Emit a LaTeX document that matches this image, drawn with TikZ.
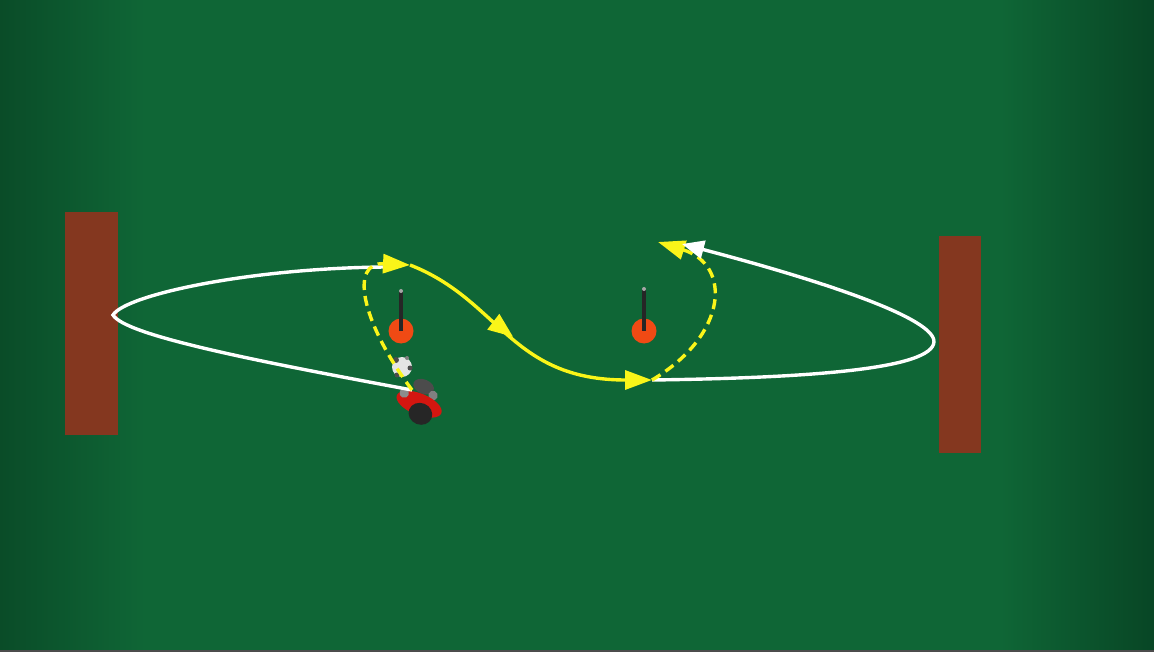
\documentclass[tikz,border=0pt]{standalone}
\usetikzlibrary{arrows.meta,decorations.markings}
\definecolor{fieldgreen}{RGB}{15,102,54}
\definecolor{fielddark}{RGB}{10,76,40}
\definecolor{fielddarker}{RGB}{8,70,37}
\definecolor{wallbrown}{RGB}{132,55,31}
\definecolor{coneorange}{RGB}{240,74,20}
\definecolor{passyellow}{RGB}{250,245,25}
\definecolor{shirtred}{RGB}{212,22,16}

\begin{document}
\begin{tikzpicture}[x=1pt, y=-1pt,
  wall/.style={fill=wallbrown},
  cone/.style={circle, fill=coneorange, minimum size=25pt, inner sep=0pt},
  pole/.style={line width=3.5pt, black!85},
  ball/.style={circle, fill=white!90!black, minimum size=20pt, inner sep=0pt},
  run/.style={white, line width=3.4pt},
  dribble/.style={passyellow, line width=3.4pt},
  pass/.style={passyellow, line width=3.4pt, dash pattern=on 10pt off 6pt},
  ytip/.style={-{Triangle[length=27pt,width=19pt]}},
  midtip/.style={postaction={decorate}, decoration={markings,
    mark=at position #1 with {\arrow{Triangle[length=25pt,width=19pt]}}}}
]
\useasboundingbox (0,0) rectangle (1154,652);

% pitch
\fill[fieldgreen] (0,0) rectangle (1154,652);
\shade[left color=fielddark, right color=fieldgreen] (0,0) rectangle (145,652);
\shade[left color=fieldgreen, right color=fielddarker] (1000,0) rectangle (1154,652);
\fill[black!70] (0,650) rectangle (1154,652);

% rebound walls
\fill[wall] (65,212) rectangle (118,435);
\fill[wall] (939,236) rectangle (981,453);

% cones with poles
\node[cone] (coneL) at (401,331) {};
\node[cone] (coneR) at (644,331) {};
\draw[pole] (coneL.center) -- ++(0,-40) coordinate (topL);
\draw[pole] (coneR.center) -- ++(0,-42) coordinate (topR);
\fill[black!35] (topL) circle (2pt);
\fill[black!35] (topR) circle (2pt);

% player
\begin{scope}[shift={(420,402)}, rotate=-22, scale=1.2]
  \fill[black!70] (-2,-13) ellipse (9 and 6);
  \fill[black!50] (8,-9) circle (4);
  \fill[shirtred] (0,2) ellipse (20 and 9);
  \fill[black!85] (4,9) ellipse (10 and 9);
  \fill[black!45] (-15,-2) circle (4);
\end{scope}
\node[ball] (ball) at (402,367) {};
\fill[black!70] (396,360) circle (3pt);
\fill[black!70] (410,368) circle (2.5pt);
\fill[black!70] (397,375) circle (2.5pt);
\fill[black!50] (407,358) circle (2pt);

\coordinate (start) at (412,390);
\coordinate (turnL) at (113,315);
\coordinate (runA) at (386,267);
\coordinate (passA) at (410,265);
\coordinate (passB) at (652,380);
\coordinate (turnR) at (934,341);
\coordinate (runC) at (682,244);
\coordinate (passC) at (658,242);

% first loop round the left wall
\draw[run] (start) .. controls (250,360) and (125,335) .. (turnL)
  .. controls (125,295) and (250,268) .. (runA);
\draw[run] (passB) .. controls (800,378) and (935,370) .. (turnR);

% passes and dribble
\draw[pass, ytip] (start) .. controls (360,320) and (350,262) .. (passA);
\draw[dribble, ytip, midtip=0.46] (passA) .. controls (500,300) and (510,380) .. (passB);
\draw[pass, ytip] (passB) .. controls (728,335) and (732,265) .. (passC);

% back round the right wall
\draw[run, -{Triangle[length=22pt,width=18pt]}] (turnR)
  .. controls (932,315) and (800,275) .. (runC);
\end{tikzpicture}
\end{document}
